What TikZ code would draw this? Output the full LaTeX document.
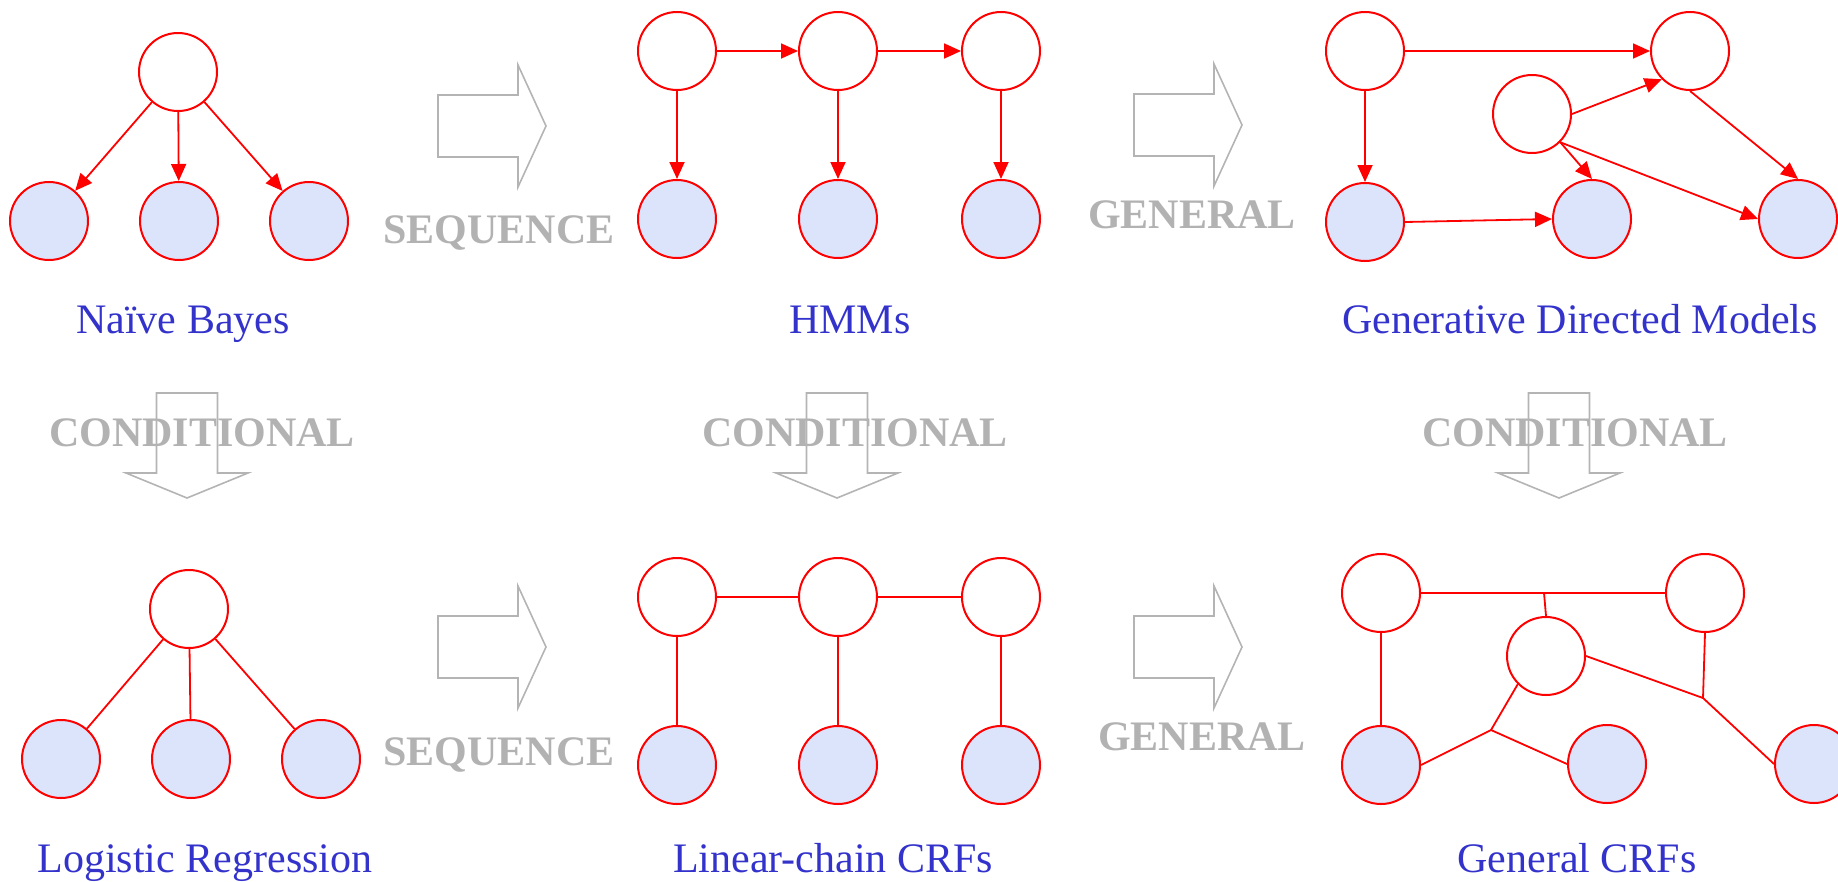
\documentclass[tikz,border=0pt]{standalone}
\usepackage{fontspec}
\setmainfont{Liberation Serif}
\usetikzlibrary{arrows.meta}
\definecolor{edgered}{RGB}{255,0,0}
\definecolor{obsfill}{RGB}{220,228,252}
\definecolor{labelblue}{RGB}{51,51,204}
\definecolor{opgray}{RGB}{178,178,178}
\definecolor{arrowgray}{RGB}{180,180,180}

\begin{document}
\begin{tikzpicture}[x=1pt,y=-1pt,
  hidden/.style={circle,draw=edgered,line width=2pt,fill=white,minimum size=78pt,inner sep=0pt},
  observed/.style={hidden,fill=obsfill},
  dir/.style={draw=edgered,line width=1.8pt,-{Triangle[length=17pt,width=15pt]}},
  undir/.style={draw=edgered,line width=1.8pt},
  title/.style={text=labelblue,font=\fontsize{42}{50}\selectfont,anchor=base,inner sep=0pt},
  oplabel/.style={text=opgray,font=\fontsize{42}{50}\selectfont\bfseries,anchor=base,inner sep=0pt},
  blockarrow/.style={draw=arrowgray,line width=1.6pt,line join=miter},
  rightblock/.pic={\draw[blockarrow] (-108,-31) -- (-28,-31) -- (-28,-61) -- (0,0)
      -- (-28,61) -- (-28,31) -- (-108,31) -- cycle;},
  downblock/.pic={\draw[blockarrow] (-30.5,-105) -- (30.5,-105) -- (30.5,-25) -- (61,-25)
      -- (0,0) -- (-61,-25) -- (-30.5,-25) -- cycle;}
]
\useasboundingbox (0,0) rectangle (1838,881);

% ---------- Naive Bayes ----------
\node[hidden]   (nbY)  at (178,72)  {};
\node[observed] (nbX1) at (49,221)  {};
\node[observed] (nbX2) at (179,221) {};
\node[observed] (nbX3) at (309,221) {};
\draw[dir] (nbY) -- (nbX1);
\draw[dir] (nbY) -- (nbX2);
\draw[dir] (nbY) -- (nbX3);
\node[title] (nbT) at (183,333) {Naïve Bayes};

% ---------- HMMs ----------
\node[hidden]   (hmY1) at (677,51)   {};
\node[hidden]   (hmY2) at (838,51)   {};
\node[hidden]   (hmY3) at (1001,51)  {};
\node[observed] (hmX1) at (677,219)  {};
\node[observed] (hmX2) at (838,219)  {};
\node[observed] (hmX3) at (1001,219) {};
\draw[dir] (hmY1) -- (hmY2);
\draw[dir] (hmY2) -- (hmY3);
\draw[dir] (hmY1) -- (hmX1);
\draw[dir] (hmY2) -- (hmX2);
\draw[dir] (hmY3) -- (hmX3);
\node[title] (hmT) at (850,333) {HMMs};

% ---------- Generative directed models ----------
\node[hidden]   (gA) at (1365,51)  {};
\node[hidden]   (gB) at (1690,51)  {};
\node[hidden]   (gC) at (1532,114) {};
\node[observed] (gD) at (1365,222) {};
\node[observed] (gE) at (1592,219) {};
\node[observed] (gF) at (1798,219) {};
\draw[dir] (gA.east) -- (gB.west);
\draw[dir] (gA.south) -- (gD.north);
\draw[dir] (gC.east) -- (gB.south west);
\draw[dir] (gB.south) -- (gF.north);
\draw[dir] (gC.south east) -- (gE.north);
\draw[dir] (gC.south east) -- (gF.west);
\draw[dir] (gD.east) -- (gE.west);
\node[title] (gT) at (1580,333) {Generative Directed Models};

% ---------- Logistic regression ----------
\node[hidden]   (lrY)  at (189,609) {};
\node[observed] (lrX1) at (61,759)  {};
\node[observed] (lrX2) at (191,759) {};
\node[observed] (lrX3) at (321,759) {};
\draw[undir] (lrY) -- (lrX1);
\draw[undir] (lrY) -- (lrX2);
\draw[undir] (lrY) -- (lrX3);
\node[title] (lrT) at (205,872) {Logistic Regression};

% ---------- Linear-chain CRFs ----------
\node[hidden]   (lcY1) at (677,597)  {};
\node[hidden]   (lcY2) at (838,597)  {};
\node[hidden]   (lcY3) at (1001,597) {};
\node[observed] (lcX1) at (677,765)  {};
\node[observed] (lcX2) at (838,765)  {};
\node[observed] (lcX3) at (1001,765) {};
\draw[undir] (lcY1) -- (lcY2);
\draw[undir] (lcY2) -- (lcY3);
\draw[undir] (lcY1) -- (lcX1);
\draw[undir] (lcY2) -- (lcX2);
\draw[undir] (lcY3) -- (lcX3);
\node[title] (lcT) at (833,872) {Linear-chain CRFs};

% ---------- General CRFs (factor junctions) ----------
\node[hidden]   (cA) at (1381,593) {};
\node[hidden]   (cB) at (1705,593) {};
\node[hidden]   (cC) at (1546,656) {};
\node[observed] (cD) at (1381,765) {};
\node[observed] (cE) at (1607,764) {};
\node[observed] (cF) at (1814,764) {};
\coordinate (jTop) at (1544,593);
\coordinate (jLow) at (1491,730);
\coordinate (jRight) at (1703,698);
\draw[undir] (cA.east) -- (cB.west);
\draw[undir] (jTop) -- (cC.north);
\draw[undir] (cA.south) -- (cD.north);
\draw[undir] (cD.east) -- (jLow) -- (cE.west);
\draw[undir] (jLow) -- (cC.south west);
\draw[undir] (cB.south) -- (jRight) -- (cF.west);
\draw[undir] (cC.east) -- (jRight);
\node[title] (cT) at (1577,872) {General CRFs};

% ---------- Relation labels and block arrows ----------
\node[oplabel] (seqTop) at (499,243) {SEQUENCE};
\node[oplabel] (genTop) at (1192,228) {GENERAL};
\node[oplabel] (seqBot) at (499,765) {SEQUENCE};
\node[oplabel] (genBot) at (1202,750) {GENERAL};
\node[oplabel] (condL) at (202,446) {CONDITIONAL};
\node[oplabel] (condM) at (855,446) {CONDITIONAL};
\node[oplabel] (condR) at (1575,446) {CONDITIONAL};

\pic at (546,126)  {rightblock};
\pic at (1242,125) {rightblock};
\pic at (546,647)  {rightblock};
\pic at (1242,647) {rightblock};
\pic at (187,498)  {downblock};
\pic at (837,498)  {downblock};
\pic at (1559,498) {downblock};
\end{tikzpicture}
\end{document}
